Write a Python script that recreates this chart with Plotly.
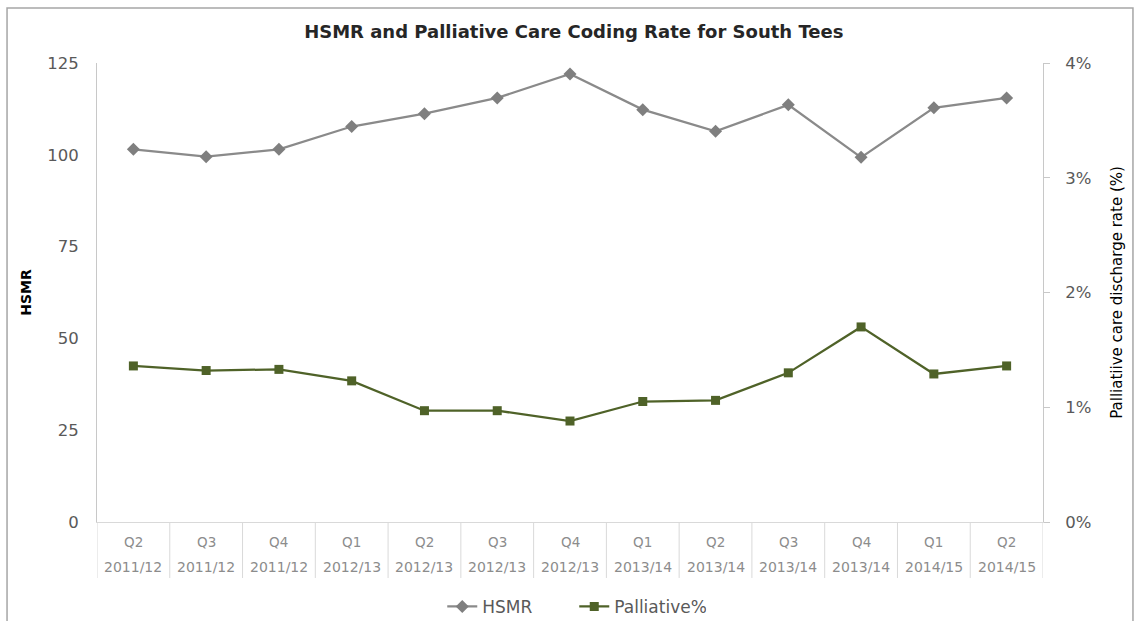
import plotly.graph_objects as go

quarters = ["Q2", "Q3", "Q4", "Q1", "Q2", "Q3", "Q4", "Q1", "Q2", "Q3", "Q4", "Q1", "Q2"]
years = ["2011/12", "2011/12", "2011/12", "2012/13", "2012/13", "2012/13", "2012/13",
         "2013/14", "2013/14", "2013/14", "2013/14", "2014/15", "2014/15"]
hsmr = [101.5, 99.5, 101.5, 107.7, 111.2, 115.5, 122.0, 112.3, 106.4, 113.6, 99.3, 112.8, 115.5]
palliative = [1.36, 1.32, 1.33, 1.23, 0.97, 0.97, 0.88, 1.05, 1.06, 1.30, 1.70, 1.29, 1.36]

cats = [f"{q} {y}" for q, y in zip(quarters, years)]
FONT = "DejaVu Sans"

fig = go.Figure()
fig.add_trace(go.Scatter(
    x=cats, y=hsmr, name="HSMR", mode="lines+markers",
    line=dict(color="#8a8a8a", width=2.25),
    marker=dict(symbol="diamond", size=10, color="#7f7f7f"),
))
fig.add_trace(go.Scatter(
    x=cats, y=palliative, name="Palliative%", mode="lines+markers", yaxis="y2",
    line=dict(color="#4f6228", width=2.25),
    marker=dict(symbol="square", size=9, color="#4f6228"),
))

shapes = []
sep_bottom = -0.122
for i in range(len(cats) + 1):
    shapes.append(dict(type="line", xref="x", yref="paper", x0=i - 0.5, x1=i - 0.5,
                       y0=0, y1=sep_bottom, line=dict(color="#d9d9d9", width=1)))
# outer chart border
shapes.append(dict(type="rect", xref="paper", yref="paper", x0=-0.0951, x1=1.0951,
                   y0=-0.25, y1=1.1198, line=dict(color="#a6a6a6", width=1.5),
                   fillcolor="rgba(0,0,0,0)", layer="below"))

annotations = []
for c, q, y in zip(cats, quarters, years):
    annotations.append(dict(x=c, xref="x", y=-0.043, yref="paper", text=q, showarrow=False,
                            font=dict(family=FONT, size=13.5, color="#8c8c8c"), yanchor="middle"))
    annotations.append(dict(x=c, xref="x", y=-0.098, yref="paper", text=y, showarrow=False,
                            font=dict(family=FONT, size=14, color="#8c8c8c"), yanchor="middle"))

fig.update_layout(
    width=1136, height=621,
    margin=dict(l=97, r=93, t=63, b=99, autoexpand=False),
    paper_bgcolor="white", plot_bgcolor="white",
    font=dict(family=FONT, color="#404040"),
    title=dict(text="<b>HSMR and Palliative Care Coding Rate for South Tees</b>",
               x=0.504, xref="paper", y=1 - 32 / 621, yanchor="middle",
               font=dict(family=FONT, size=18, color="#262626")),
    xaxis=dict(type="category", showticklabels=False, ticks="", showgrid=False,
               showline=True, linecolor="#d9d9d9", linewidth=1, zeroline=False,
               range=[-0.5, len(cats) - 0.5]),
    yaxis=dict(range=[0, 125], dtick=25, showgrid=False, zeroline=False,
               showline=True, linecolor="#c8c8c8", linewidth=1, ticks="",
               ticklabelstandoff=14,
               tickfont=dict(family=FONT, size=16.5, color="#595959"),
               title=dict(text="<b>HSMR</b>", standoff=12,
                          font=dict(family=FONT, size=14, color="#000000"))),
    yaxis2=dict(range=[0, 4], dtick=1, ticksuffix="%", overlaying="y", side="right",
                showgrid=False, zeroline=False, showline=True, linecolor="#c8c8c8",
                linewidth=1, ticks="outside", ticklen=6, tickcolor="#c8c8c8",
                ticklabelstandoff=12,
                tickfont=dict(family=FONT, size=16.5, color="#595959"),
                title=dict(text="Palliatiive care discharge rate (%)", standoff=21,
                           font=dict(family=FONT, size=15, color="#000000"))),
    legend=dict(orientation="h", x=0.5045, xanchor="center", y=-0.185, yanchor="middle",
                font=dict(family=FONT, size=17, color="#595959"), itemwidth=30,
                entrywidth=87, bgcolor="rgba(0,0,0,0)"),
    shapes=shapes,
    annotations=annotations,
)

fig.write_html("out.html")
